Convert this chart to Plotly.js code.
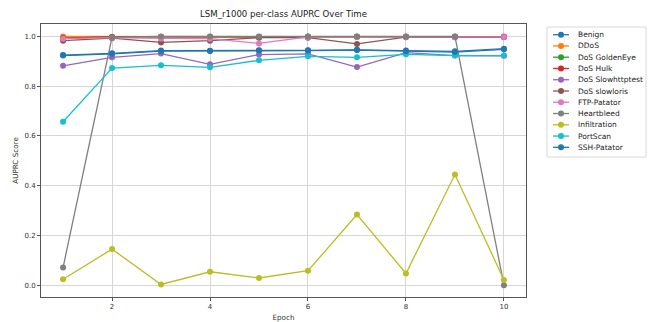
<!DOCTYPE html>
<html>
<head>
<meta charset="utf-8">
<script src="https://cdn.plot.ly/plotly-3.0.1.min.js"></script>
<style>html,body{margin:0;padding:0;background:#fff;}#chart{width:654px;height:322px;}</style>
</head>
<body>
<div id="chart"></div>
<script>
var epochs = [1, 2, 3, 4, 5, 6, 7, 8, 9, 10];
var classNames = ["Benign", "DDoS", "DoS GoldenEye", "DoS Hulk", "DoS Slowhttptest", "DoS slowloris", "FTP-Patator", "Heartbleed", "Infiltration", "PortScan", "SSH-Patator"];
var benign = [0.925, 0.932, 0.943, 0.942, 0.944, 0.944, 0.946, 0.943, 0.940, 0.951];
var ddos = [1.000, 0.999, 0.999, 0.999, 0.999, 0.999, 0.999, 0.999, 0.999, 0.999];
var goldenEye = [0.993, 0.998, 0.998, 0.998, 0.998, 0.999, 0.999, 0.999, 0.999, 0.999];
var hulk = [0.993, 0.998, 0.998, 0.998, 0.998, 0.999, 0.999, 0.999, 0.999, 0.999];
var slowhttptest = [0.882, 0.916, 0.931, 0.888, 0.927, 0.930, 0.877, 0.935, 0.923, 0.922];
var slowloris = [0.983, 0.993, 0.976, 0.983, 0.995, 0.995, 0.970, 0.997, 0.997, 0.997];
var ftpPatator = [0.991, 0.995, 0.992, 0.991, 0.972, 0.998, 0.998, 0.998, 0.997, 0.998];
var heartbleed = [0.071, 0.997, 1.000, 1.000, 1.000, 1.000, 1.000, 1.000, 1.000, 0.000];
var infiltration = [0.024, 0.145, 0.003, 0.054, 0.029, 0.058, 0.284, 0.047, 0.445, 0.021];
var portScan = [0.657, 0.873, 0.884, 0.876, 0.904, 0.920, 0.916, 0.928, 0.923, 0.923];
var sshPatator = [0.923, 0.930, 0.941, 0.941, 0.943, 0.943, 0.945, 0.940, 0.937, 0.948];

var seriesValues = [benign, ddos, goldenEye, hulk, slowhttptest, slowloris, ftpPatator, heartbleed, infiltration, portScan, sshPatator];
var colors = ["#1f77b4", "#ff7f0e", "#2ca02c", "#d62728", "#9467bd", "#8c564b", "#e377c2", "#7f7f7f", "#bcbd22", "#17becf", "#1f77b4"];

var traces = classNames.map(function (name, i) {
  return {
    x: epochs, y: seriesValues[i], name: name, type: "scatter", mode: "lines+markers",
    line: {color: colors[i], width: 1.3},
    marker: {color: colors[i], size: 6},
    showlegend: false
  };
});

// Plot area in pixels
var L = 41, R = 526, T = 24, B = 297, W = 654, H = 322;
function px2x(p) { return (p - L) / (R - L); }
function px2y(p) { return (B - p) / (B - T); }

var shapes = [];
var annotations = [];
// Legend frame
shapes.push({type: "rect", xref: "paper", yref: "paper",
  x0: px2x(547), x1: px2x(646), y0: px2y(157), y1: px2y(27),
  line: {color: "#d8d8d8", width: 1}, fillcolor: "rgba(255,255,255,0.8)"});
classNames.forEach(function (name, i) {
  var yy = px2y(34.7 + i * 11.26);
  shapes.push({type: "line", xref: "paper", yref: "paper",
    x0: px2x(553), x1: px2x(569), y0: yy, y1: yy,
    line: {color: colors[i], width: 1.3}});
  shapes.push({type: "circle", xref: "paper", yref: "paper",
    xsizemode: "pixel", ysizemode: "pixel", xanchor: px2x(561), yanchor: yy,
    x0: -3, x1: 3, y0: -3, y1: 3,
    line: {color: colors[i], width: 0}, fillcolor: colors[i]});
  annotations.push({xref: "paper", yref: "paper", x: px2x(576), y: yy,
    xanchor: "left", yanchor: "middle", showarrow: false, text: name,
    font: {family: "DejaVu Sans", size: 7.5, color: "#222"}});
});

var layout = {
  width: W, height: H,
  margin: {l: L, r: W - R, t: T, b: H - B, pad: 0},
  paper_bgcolor: "#ffffff", plot_bgcolor: "#ffffff",
  font: {family: "DejaVu Sans", size: 7, color: "#333"},
  title: {text: "LSM_r1000 per-class AUPRC Over Time", x: 0.5, xref: "paper",
    y: 1 - 14 / H, yref: "container", yanchor: "middle", xanchor: "center",
    font: {family: "DejaVu Sans", size: 8.6, color: "#222"}},
  xaxis: {range: [0.55, 10.45], tickvals: [2, 4, 6, 8, 10], ticktext: ["2", "4", "6", "8", "10"],
    showgrid: true, gridcolor: "#d6d6d6", gridwidth: 1, zeroline: false,
    showline: true, linecolor: "#555", linewidth: 1, mirror: true,
    ticks: "outside", ticklen: 3, tickcolor: "#555", tickfont: {size: 7},
    title: {text: "Epoch", font: {size: 7.2, color: "#333"}, standoff: 4}},
  yaxis: {range: [-0.0475, 1.05], tickvals: [0, 0.2, 0.4, 0.6, 0.8, 1.0], ticktext: ["0.0", "0.2", "0.4", "0.6", "0.8", "1.0"],
    showgrid: true, gridcolor: "#d6d6d6", gridwidth: 1, zeroline: false,
    showline: true, linecolor: "#555", linewidth: 1, mirror: true,
    ticks: "outside", ticklen: 3, tickcolor: "#555", tickfont: {size: 7},
    title: {text: "AUPRC Score", font: {size: 7.2, color: "#333"}, standoff: 4}},
  shapes: shapes,
  annotations: annotations,
  showlegend: false
};

Plotly.newPlot("chart", traces, layout, {displayModeBar: false, staticPlot: true});
</script>
</body>
</html>
